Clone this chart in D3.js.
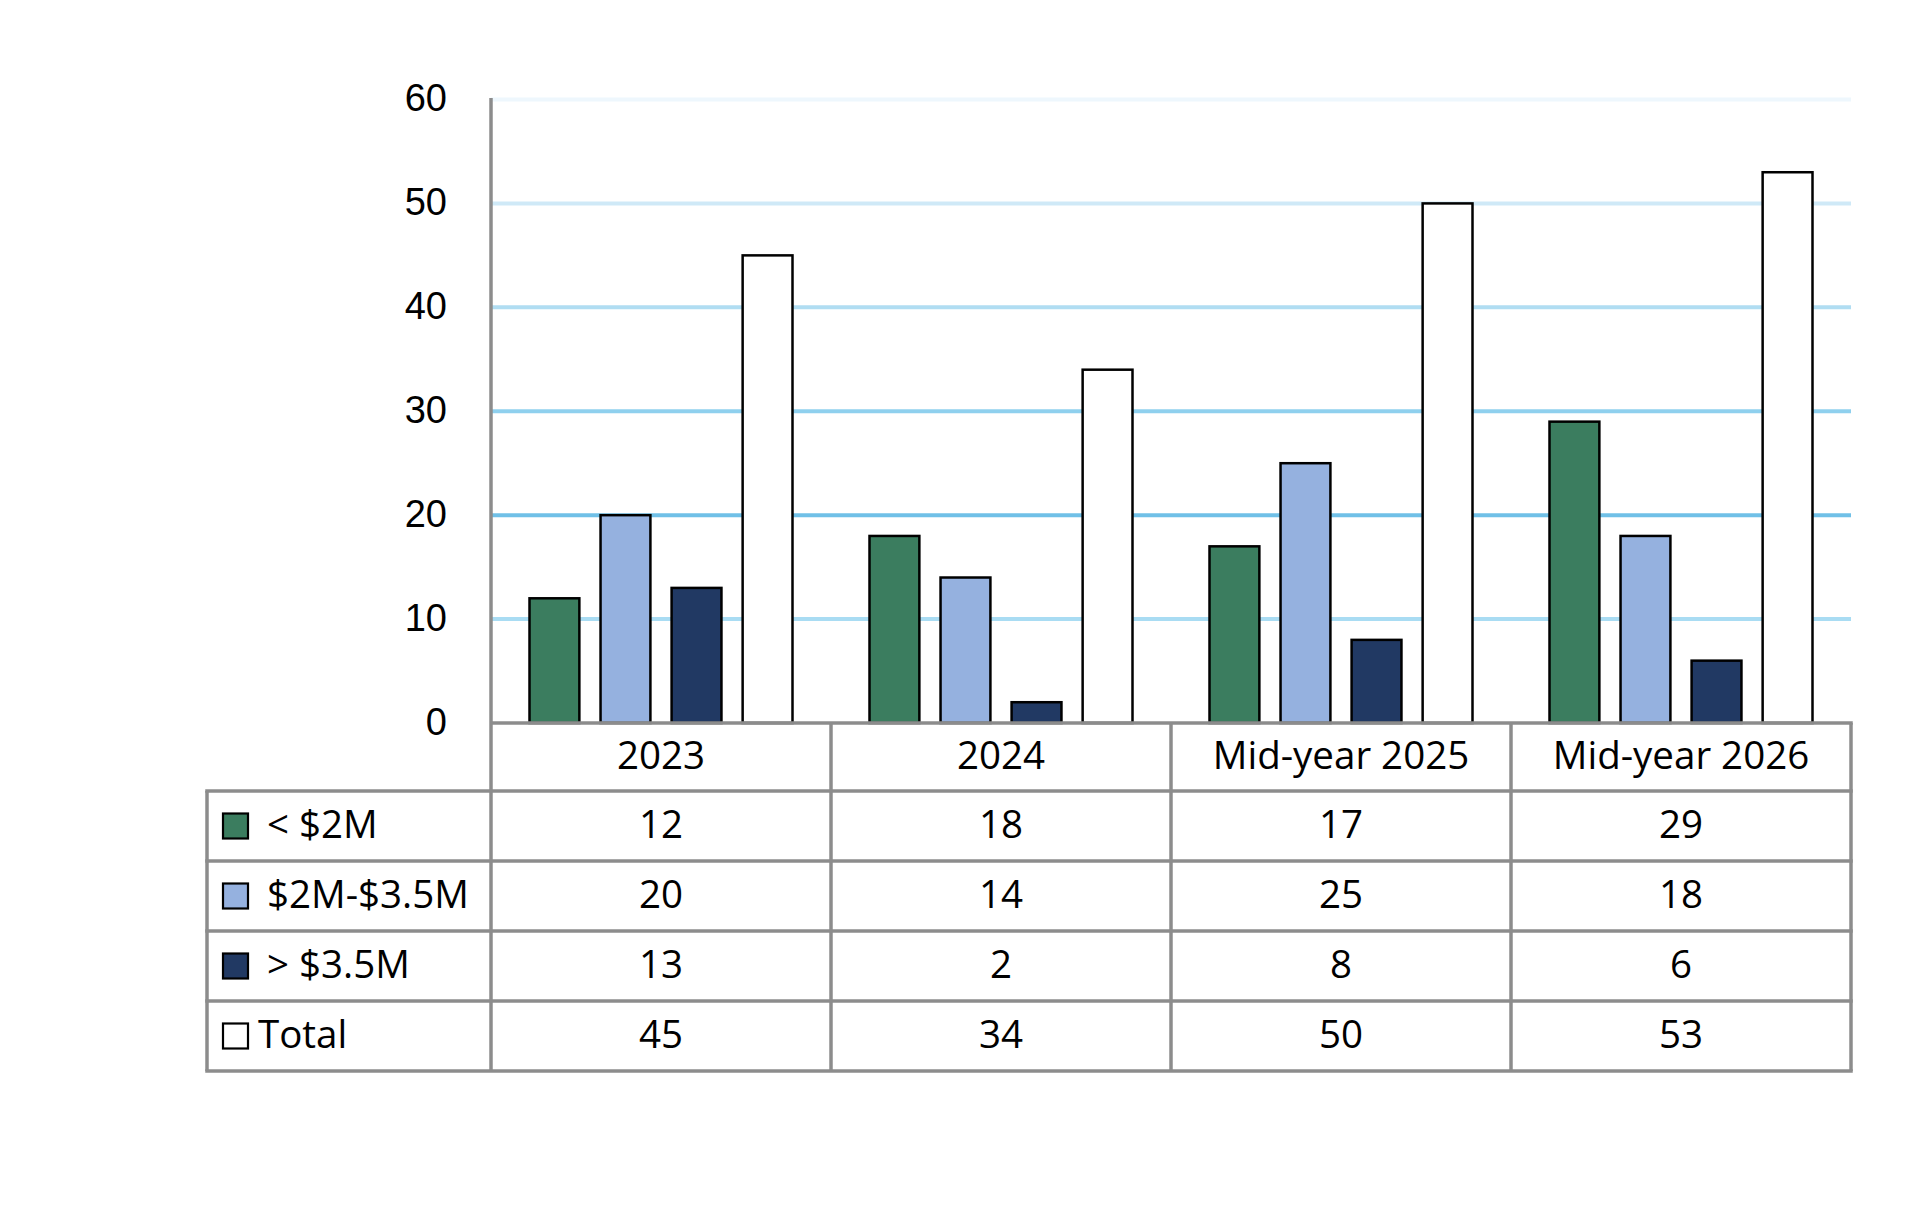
<!DOCTYPE html>
<html lang="en">
  <head>
    <meta charset="UTF-8" />
    <title>Deals by size</title>
    <script src="https://d3js.org/d3.v7.min.js"></script>
    <style>
      body {
        margin: 0;
        background: #fff;
      }
      .tick-label {
        font-family: "Liberation Sans", Arial, sans-serif;
        font-size: 38px;
        fill: #000;
      }
      .cell {
        font-family: "Open Sans", sans-serif;
        font-size: 38.5px;
        fill: #000;
      }
    </style>
  </head>
  <body></body>
  <script>
    const categories = ["2023", "2024", "Mid-year 2025", "Mid-year 2026"];
    const seriesNames = ["< $2M", "$2M-$3.5M", "> $3.5M", "Total"];
    const under2M = [12, 18, 17, 29];
    const from2to35M = [20, 14, 25, 18];
    const over35M = [13, 2, 8, 6];
    const totals = [45, 34, 50, 53];
    const yTicks = [0, 10, 20, 30, 40, 50, 60];

    const seriesColors = ["#3b7d5f", "#95b1df", "#213963", "#ffffff"];
    // gridlines get lighter towards the top, like the original
    const gridColors = ["none", "#a9dcf3", "#70c0e7", "#8fd0ee", "#b0ddf2", "#cfe9f7", "#eef7fd"];

    const series = seriesNames.map((name, i) => ({
      name: name,
      color: seriesColors[i],
      values: [under2M, from2to35M, over35M, totals][i],
    }));

    const W = 1920,
      H = 1210;
    const left = 491,
      right = 1851,
      tableLeft = 207;
    const headerTop = 723,
      headerBottom = 791,
      tableBottom = 1071;
    const lineGrey = "#8c8c8c";

    const svg = d3.select("body").append("svg").attr("width", W).attr("height", H);

    const x0 = d3.scaleBand().domain(categories).range([left, right]);
    const x1 = d3
      .scaleBand()
      .domain(seriesNames)
      .range([37.5, x0.bandwidth() - 37.5])
      .paddingInner(0.27);
    const y = d3.scaleLinear().domain([0, 60]).range([headerTop, 99.5]);
    const rowY = d3.scaleBand().domain(seriesNames).range([headerBottom, tableBottom]);

    // gridlines
    svg
      .append("g")
      .selectAll("line")
      .data(yTicks.filter((t) => t > 0))
      .join("line")
      .attr("x1", left)
      .attr("x2", right)
      .attr("y1", (d) => y(d))
      .attr("y2", (d) => y(d))
      .attr("stroke", (d) => gridColors[yTicks.indexOf(d)])
      .attr("stroke-width", 4);

    // y tick labels
    const yAxis = svg
      .append("g")
      .attr("transform", `translate(${left},0)`)
      .call(d3.axisLeft(y).tickValues(yTicks).tickSize(0).tickPadding(44));
    yAxis.select(".domain").remove();
    yAxis
      .selectAll("text")
      .attr("class", "tick-label")
      .attr("font-family", null)
      .attr("font-size", null)
      .attr("dy", "0.3em");

    // bars
    const groups = svg
      .append("g")
      .selectAll("g")
      .data(categories)
      .join("g")
      .attr("transform", (d) => `translate(${x0(d)},0)`);

    groups
      .selectAll("rect")
      .data((d, ci) => series.map((s) => ({ name: s.name, color: s.color, value: s.values[ci] })))
      .join("rect")
      .attr("x", (d) => x1(d.name) + 1)
      .attr("width", x1.bandwidth() - 2)
      .attr("y", (d) => y(d.value))
      .attr("height", (d) => y(0) - y(d.value))
      .attr("fill", (d) => d.color)
      .attr("stroke", "#000")
      .attr("stroke-width", 2.5);

    // value axis line
    svg
      .append("line")
      .attr("x1", left)
      .attr("x2", left)
      .attr("y1", y(60) - 1.5)
      .attr("y2", tableBottom)
      .attr("stroke", lineGrey)
      .attr("stroke-width", 3.5);

    // data table grid
    const grid = svg.append("g").attr("stroke", lineGrey).attr("stroke-width", 3.5);
    grid
      .append("line")
      .attr("x1", left)
      .attr("x2", right + 1.75)
      .attr("y1", headerTop)
      .attr("y2", headerTop);
    const hLines = [headerBottom, ...seriesNames.map((s) => rowY(s) + rowY.bandwidth())];
    grid
      .selectAll(".h")
      .data(hLines)
      .join("line")
      .attr("x1", tableLeft - 1.75)
      .attr("x2", right + 1.75)
      .attr("y1", (d) => d)
      .attr("y2", (d) => d);
    grid
      .append("line")
      .attr("x1", tableLeft)
      .attr("x2", tableLeft)
      .attr("y1", headerBottom)
      .attr("y2", tableBottom);
    grid
      .selectAll(".v")
      .data(categories)
      .join("line")
      .attr("x1", (d) => x0(d) + x0.bandwidth())
      .attr("x2", (d) => x0(d) + x0.bandwidth())
      .attr("y1", headerTop)
      .attr("y2", tableBottom);

    // header labels
    svg
      .append("g")
      .selectAll("text")
      .data(categories)
      .join("text")
      .attr("class", "cell")
      .attr("x", (d) => x0(d) + x0.bandwidth() / 2)
      .attr("y", (headerTop + headerBottom) / 2)
      .attr("dy", "0.3em")
      .attr("text-anchor", "middle")
      .text((d) => d);

    // rows: legend key, name and values
    const rows = svg
      .append("g")
      .selectAll("g")
      .data(series)
      .join("g")
      .attr("transform", (d) => `translate(0,${rowY(d.name) + rowY.bandwidth() / 2})`);

    rows
      .append("rect")
      .attr("x", tableLeft + 16)
      .attr("y", -12.5)
      .attr("width", 25)
      .attr("height", 25)
      .attr("fill", (d) => d.color)
      .attr("stroke", "#000")
      .attr("stroke-width", 2.2);

    rows
      .append("text")
      .attr("class", "cell")
      .attr("x", (d) => (d.name === "Total" ? tableLeft + 51 : tableLeft + 60))
      .attr("dy", "0.3em")
      .text((d) => d.name);

    rows.each(function (s) {
      d3.select(this)
        .selectAll(".val")
        .data(s.values)
        .join("text")
        .attr("class", "cell val")
        .attr("x", (d, i) => x0(categories[i]) + x0.bandwidth() / 2)
        .attr("dy", "0.3em")
        .attr("text-anchor", "middle")
        .text((d) => d);
    });
  </script>
</html>
